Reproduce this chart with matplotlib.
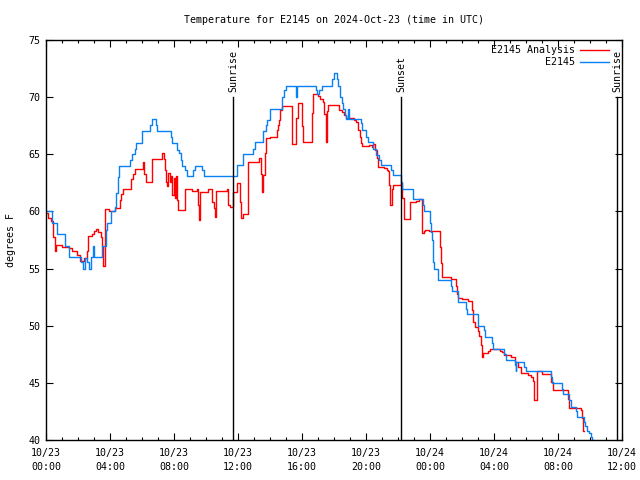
import matplotlib

matplotlib.use("Agg")
import matplotlib.pyplot as plt

# ─── Data (hours since 2024-10-23 00:00 UTC, degrees F) ─────────────────────

station_hours = [
    0.0, 0.4, 0.67, 1.17, 1.44, 2.2, 2.33, 2.42, 2.55, 2.69, 2.8, 2.94, 3.0,
    3.52, 3.73, 3.83, 4.04, 4.31, 4.4, 4.48, 4.56, 5.25, 5.4, 5.54, 5.6, 6.02,
    6.5, 6.6, 6.85, 6.92, 7.79, 7.85, 8.17, 8.31, 8.44, 8.48, 8.69, 8.79, 9.21,
    9.3, 9.73, 9.85, 11.92, 12.29, 12.33, 12.96, 13.06, 13.54, 13.58, 13.75,
    13.83, 14.0, 14.77, 14.9, 14.98, 15.6, 15.68, 16.88, 16.95, 17.05, 17.23,
    17.85, 18.02, 18.2, 18.27, 18.38, 18.48, 18.58, 18.69, 18.73, 18.9, 18.96,
    19.69, 19.78, 19.98, 20.1, 20.46, 20.6, 20.81, 20.94, 21.56, 21.67, 22.19,
    22.27, 22.92, 22.96, 23.58, 23.65, 24.0, 24.06, 24.1, 24.17, 24.2, 24.27,
    24.48, 24.52, 25.31, 25.35, 25.73, 25.77, 26.25, 26.29, 26.98, 27.02, 27.4,
    27.44, 27.9, 27.96, 28.64, 28.73, 29.31, 29.35, 29.4, 29.9, 29.98, 31.56,
    31.65, 32.27, 32.33, 32.71, 32.79, 33.13, 33.17, 33.65, 33.69, 33.79,
    33.94, 34.06, 34.15, 34.25,
]
station_temps = [
    60.0, 59.0, 58.0, 57.0, 56.0, 55.6, 55.0, 55.9, 55.6, 55.0, 56.0, 57.0, 56.0,
    57.0, 58.4, 59.0, 60.0, 60.4, 61.6, 63.0, 64.0, 64.5, 65.0, 65.5, 66.0, 67.0,
    67.6, 68.1, 67.6, 67.0, 66.5, 66.0, 65.4, 65.1, 64.5, 64.0, 63.6, 63.1, 63.6,
    64.0, 63.6, 63.1, 64.1, 64.5, 65.0, 65.5, 66.05, 66.6, 67.0, 67.6,
    68.0, 69.0, 70.0, 70.6, 71.0, 70.0, 71.0, 70.6, 70.3, 70.6, 71.0,
    71.6, 72.1, 71.6, 71.0, 70.0, 69.5, 69.0, 68.4, 68.1, 69.0, 68.1,
    67.7, 67.1, 66.5, 66.1, 65.5, 64.9, 64.5, 64.1, 63.6, 63.2, 62.6,
    62.0, 61.6, 61.1, 60.56, 60.04, 59.0, 58.2, 57.5, 56.3, 55.6, 55.0,
    54.4, 54.0, 53.5, 53.0, 52.5, 52.1, 51.5, 51.0, 50.5, 50.0, 49.6,
    49.0, 48.5, 48.0, 47.5, 47.0, 46.56, 46.0, 46.85, 46.4, 46.0, 45.5,
    45.0, 44.5, 44.0, 43.5, 42.9, 42.5, 42.0, 41.6, 41.2, 40.8,
    40.6, 40.3, 40.0, 39.8,
]

analysis_hours = [
    0.0, 0.12, 0.33, 0.44, 0.56, 0.62, 1.0, 1.44, 1.65, 1.96, 2.13, 2.4, 2.55,
    2.62, 2.85, 3.0, 3.1, 3.25, 3.42, 3.52, 3.58, 3.66, 3.94, 4.31, 4.63, 4.71,
    4.83, 5.33, 5.45, 5.55, 6.08, 6.15, 6.25, 6.6, 7.28, 7.38, 7.45, 7.52,
    7.56, 7.62, 7.72, 7.8, 7.9, 8.02, 8.08, 8.14, 8.2, 8.27, 8.69, 9.12, 9.45,
    9.52, 9.56, 9.62, 10.12, 10.35, 10.5, 10.56, 10.6, 11.3, 11.4, 11.5, 11.67,
    11.96, 12.13, 12.17, 12.33, 12.62, 12.65, 13.3, 13.46, 13.52, 13.58, 13.68,
    13.75, 14.0, 14.42, 14.52, 14.58, 14.65, 14.73, 15.35, 15.4, 15.65, 15.72,
    15.98, 16.04, 16.08, 16.63, 16.67, 17.0, 17.13, 17.29, 17.4, 17.47, 17.54,
    17.62, 18.3, 18.5, 18.65, 18.73, 19.25, 19.4, 19.48, 19.52, 19.62, 19.69,
    19.73, 20.2, 20.35, 20.42, 20.55, 20.67, 20.73, 20.77, 21.1, 21.3, 21.4,
    21.46, 21.5, 21.65, 21.71, 22.06, 22.19, 22.22, 22.27, 22.35, 22.4, 22.72,
    22.75, 23.1, 23.31, 23.48, 23.52, 23.6, 23.69, 23.95, 24.63, 24.68, 24.73,
    25.31, 25.6, 25.68, 25.73, 26.02, 26.4, 26.65, 26.71, 26.81, 26.98, 27.08,
    27.17, 27.23, 27.33, 27.6, 27.75, 28.35, 28.52, 28.64, 29.06, 29.31, 29.5,
    29.69, 30.15, 30.31, 30.46, 30.5, 30.67, 30.71, 30.98, 31.58, 31.71, 32.65,
    32.71, 33.44, 33.52, 33.58, 33.63,
]
analysis_temps = [
    59.9, 59.4, 59.2, 57.8, 56.5, 57.1, 56.9, 56.8, 56.5, 56.2, 55.7, 55.9, 56.5,
    57.85, 58.0, 58.3, 58.5, 58.2, 57.8, 57.0, 55.2, 60.2, 60.0, 60.3, 61.0, 61.5,
    62.0, 62.8, 63.3, 63.7, 64.3, 63.3, 62.6, 64.6, 65.1, 64.6, 63.6, 62.6,
    62.2, 63.4, 62.6, 63.1, 61.4, 62.9, 61.2, 63.1, 61.0, 60.1, 62.0, 61.8, 62.0,
    60.6, 59.25, 61.7, 62.0, 60.85, 60.3, 59.5, 61.8, 62.0, 60.6, 60.4, 61.7,
    62.45, 60.85, 59.4, 59.8, 62.1, 64.3, 64.7, 63.3, 61.7, 63.2, 65.1,
    66.4, 66.5, 67.1, 67.6, 68.0, 68.9, 69.2, 67.5, 65.9, 68.15, 69.5,
    67.5, 66.25, 66.1, 68.6, 70.3, 70.1, 69.8, 69.6, 68.5, 66.1, 68.8,
    69.3, 68.9, 68.7, 68.4, 68.15, 68.0, 67.8, 67.6, 67.1, 66.5, 66.0,
    65.7, 65.8, 65.6, 65.9, 65.4, 64.65, 64.0, 63.9, 63.8, 63.6, 63.5,
    62.3, 60.6, 62.0, 62.3, 62.3, 62.45, 61.8, 61.15, 60.3, 59.3, 60.1,
    60.85, 60.9, 61.06, 60.2, 58.1, 58.3, 58.4, 58.3, 56.9, 55.5, 54.3,
    54.1, 53.5, 52.8, 52.4, 52.3, 52.2, 51.4, 50.35, 49.9, 49.5, 49.1,
    48.3, 47.3, 47.6, 47.8, 48.0, 47.8, 47.7, 47.4, 47.3, 46.85, 46.4,
    45.9, 45.7, 45.5, 45.2, 43.5, 44.6, 46.0, 45.8, 45.1, 44.4, 43.6,
    42.8, 42.6, 41.9, 40.8, 40.8,
]

sun_hours = [11.69, 22.19, 35.69]
sun_labels = ["Sunrise", "Sunset", "Sunrise"]

tick_hours = [0, 4, 8, 12, 16, 20, 24, 28, 32, 36]
tick_labels = [
    "10/23\n00:00", "10/23\n04:00", "10/23\n08:00", "10/23\n12:00",
    "10/23\n16:00", "10/23\n20:00", "10/24\n00:00", "10/24\n04:00",
    "10/24\n08:00", "10/24\n12:00",
]
y_ticks = [40, 45, 50, 55, 60, 65, 70, 75]

# ─── Style ───────────────────────────────────────────────────────────────────

FONT = "DejaVu Sans Mono"
FS = 7.2
RED = "#ff0000"
BLUE = "#0a80f5"

plt.rcParams["font.family"] = FONT
plt.rcParams["font.size"] = FS

fig = plt.figure(figsize=(6.4, 4.8), dpi=100, facecolor="white")
ax = fig.add_axes([46 / 640, 40 / 480, 576 / 640, 400 / 480])

ax.plot(analysis_hours, analysis_temps, color=RED, lw=1.0, drawstyle="steps-post")
ax.plot(station_hours, station_temps, color=BLUE, lw=1.0, drawstyle="steps-post")

ax.set_xlim(0, 36)
ax.set_ylim(40, 75)

ax.set_xticks(tick_hours)
ax.set_xticklabels(tick_labels, linespacing=1.45)
ax.set_xticks(range(0, 37), minor=True)
ax.set_yticks(y_ticks)

ax.tick_params(which="both", direction="in", top=True, right=True, colors="black")
ax.tick_params(which="major", length=5, width=0.8)
ax.tick_params(which="minor", length=2.5, width=0.8)
ax.tick_params(axis="x", pad=6)
ax.tick_params(axis="y", pad=4)
for spine in ax.spines.values():
    spine.set_linewidth(1.0)

# sunrise / sunset markers
line_top = (440 - 97) / 400
for h, lab in zip(sun_hours, sun_labels):
    ax.axvline(h, ymin=0, ymax=line_top, color="black", lw=1.0)
    ax.text(h, 75 - 35 * (1 - line_top) + 0.4, lab, rotation=90, ha="center",
            va="bottom", fontsize=FS, clip_on=False)

# legend (gnuplot style: text right-aligned, sample to the right)
for i, (lab, col) in enumerate([("E2145 Analysis", RED), ("E2145", BLUE)]):
    y = 1 - (10 + 12 * i) / 400
    ax.text(529 / 576, y, lab, transform=ax.transAxes, ha="right", va="center")
    ax.plot([534 / 576, 563 / 576], [y, y], transform=ax.transAxes, color=col,
            lw=1.0, clip_on=False)

ax.set_ylabel("degrees F")
ax.yaxis.set_label_coords(-30 / 576, 0.5)
fig.text(334 / 640, 1 - 20 / 480, "Temperature for E2145 on 2024-Oct-23 (time in UTC)",
         ha="center", va="center", fontsize=FS)

fig.savefig("out.png", dpi=100)
